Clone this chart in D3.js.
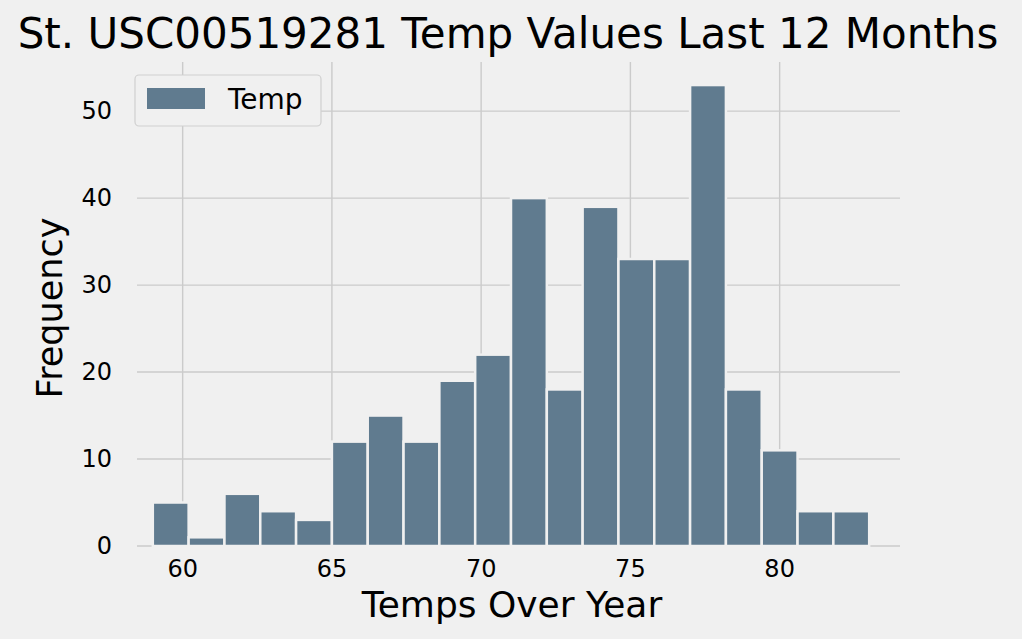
<!DOCTYPE html><html><head><meta charset="utf-8"><script src="https://cdn.jsdelivr.net/npm/d3@7"></script>
<style>body{margin:0;background:#f0f0f0}text{font-family:"DejaVu Sans",sans-serif}</style></head><body><svg id="c" width="1022" height="639"></svg>
<script>
const binStart=59, binWidth=1.2;
const counts=[5,1,6,4,3,12,15,12,19,22,40,18,39,33,33,53,18,11,4,4];
const xTicks=[60,65,70,75,80];
const yTicks=[0,10,20,30,40,50];
const svg=d3.select("#c");
svg.append("rect").attr("width",1022).attr("height",639).attr("fill","#f0f0f0");
const x=d3.scaleLinear().domain([57.8,84.2]).range([117,905]);
const y=d3.scaleLinear().domain([0,55.65]).range([546,62]);
const g=svg.append("g");
xTicks.forEach(t=>g.append("line").attr("x1",x(t)).attr("x2",x(t)).attr("y1",62).attr("y2",546).attr("stroke","#cbcbcb").attr("stroke-width",1.4));
yTicks.forEach(t=>g.append("line").attr("x1",137).attr("x2",900).attr("y1",y(t)).attr("y2",y(t)).attr("stroke","#cbcbcb").attr("stroke-width",1.4));
g.selectAll("rect.b").data(counts).enter().append("rect")
 .attr("x",(d,i)=>x(binStart+i*binWidth)).attr("width",x(binWidth)-x(0))
 .attr("y",d=>y(d)).attr("height",d=>y(0)-y(d))
 .attr("fill","#607b8f").attr("stroke","#f0f0f0").attr("stroke-width",2.5);
xTicks.forEach(t=>g.append("text").attr("x",x(t)).attr("y",577).attr("text-anchor","middle").attr("font-size",24).attr("fill","#000").text(t));
yTicks.forEach(t=>g.append("text").attr("x",112).attr("y",y(t)+8).attr("text-anchor","end").attr("font-size",24).attr("fill","#000").text(t));
svg.append("text").attr("x",508).attr("y",48).attr("text-anchor","middle").attr("font-size",42).attr("fill","#000").text("St. USC00519281 Temp Values Last 12 Months");
svg.append("text").attr("x",512).attr("y",617).attr("text-anchor","middle").attr("font-size",36).attr("fill","#000").text("Temps Over Year");
svg.append("text").attr("transform","translate(62,308) rotate(-90)").attr("text-anchor","middle").attr("font-size",35).attr("fill","#000").text("Frequency");
const lg=svg.append("g");
lg.append("rect").attr("x",135).attr("y",75).attr("width",186).attr("height",51).attr("rx",4).attr("fill","#f0f0f0").attr("stroke","#d0d0d0").attr("stroke-width",1.2);
lg.append("rect").attr("x",147).attr("y",88).attr("width",58).attr("height",21).attr("fill","#607b8f");
lg.append("text").attr("x",228).attr("y",109).attr("font-size",28).attr("fill","#000").text("Temp");
</script></body></html>
